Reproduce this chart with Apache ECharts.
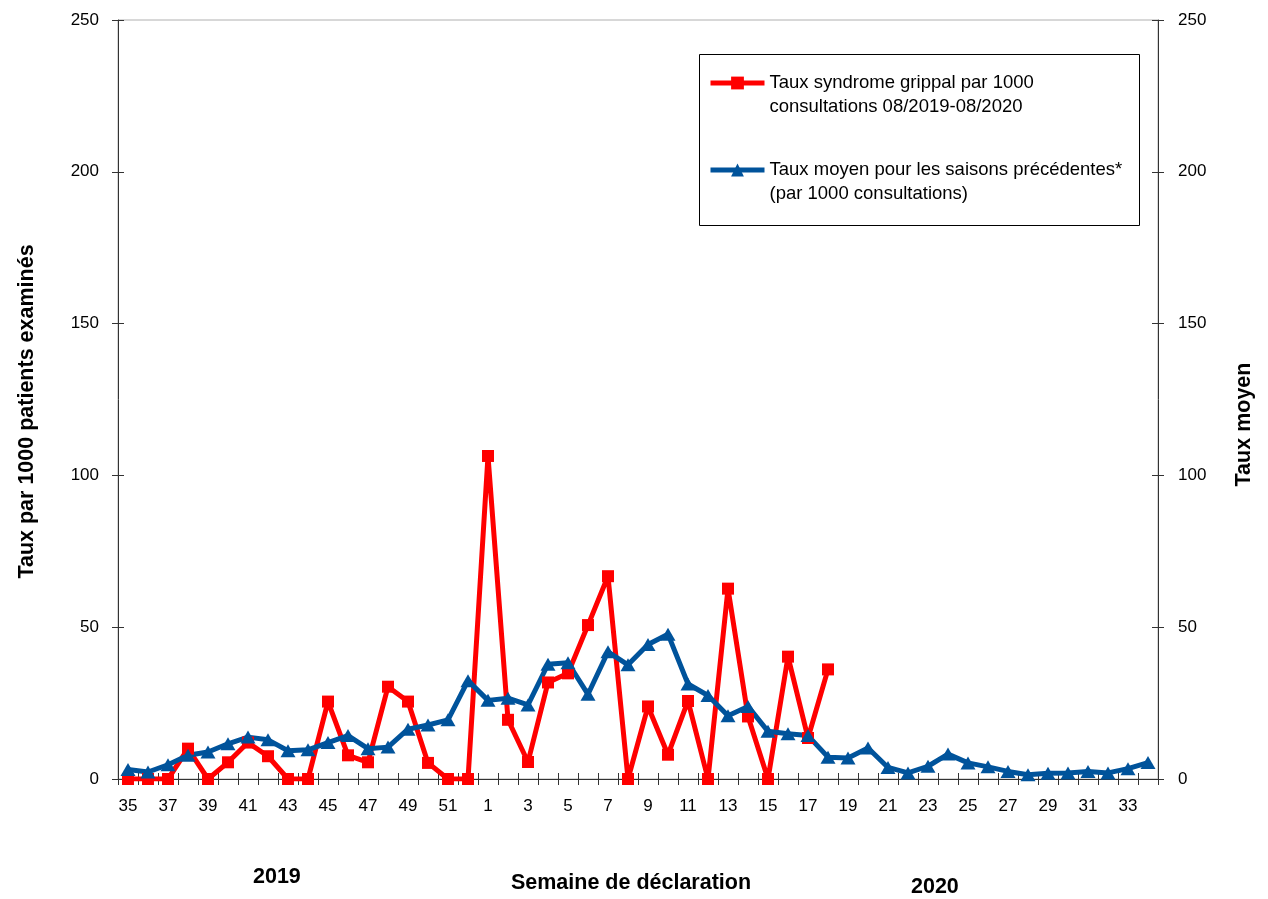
<!DOCTYPE html>
<html>
<head>
<meta charset="utf-8">
<script src="https://cdn.jsdelivr.net/npm/echarts@6/dist/echarts.min.js"></script>
<style>html,body{margin:0;padding:0;background:#fff}#c{width:1268px;height:899px}</style>
</head>
<body>
<div id="c"></div>
<script>
const weeks = ['35','36','37','38','39','40','41','42','43','44','45','46','47','48','49','50','51','52',
  '1','2','3','4','5','6','7','8','9','10','11','12','13','14','15','16','17','18','19','20',
  '21','22','23','24','25','26','27','28','29','30','31','32','33','34'];
const tauxSyndrome = [0,0,0,10,0,5.5,12,7.5,0,0,25.5,7.8,5.5,30.4,25.5,5.3,0,0,
  106.4,19.5,5.6,31.8,34.8,50.7,66.8,0,23.9,8,25.7,0,62.7,20.6,0,40.3,13.5,36.1];
const tauxMoyen = [3.1,2.3,4.7,7.8,8.9,11.6,13.8,12.9,9.3,9.6,12,14.3,10,10.5,16.4,17.8,19.5,32.4,
  25.9,26.6,24.4,37.8,38.3,27.9,41.9,37.6,44.3,47.7,31.3,27.5,20.8,23.9,15.7,14.9,14.3,7.2,6.9,10.2,
  3.8,2,4.2,8.2,5.3,4,2.5,1.4,1.9,2,2.5,2,3.4,5.4];
const yTicks = [0,50,100,150,200,250];
const nameRed = 'Taux syndrome grippal par 1000 consultations 08/2019-08/2020';
const nameBlue = 'Taux moyen pour les saisons précédentes* (par 1000 consultations)';
const legendLines = {};
legendLines[nameRed] = ['Taux syndrome grippal par 1000', 'consultations 08/2019-08/2020'];
legendLines[nameBlue] = ['Taux moyen pour les saisons précédentes*', '(par 1000 consultations)'];

const FONT = "'Liberation Sans', Arial, sans-serif";
const AX = '#333';
const chart = echarts.init(document.getElementById('c'));
const yBase = {type:'value', min:yTicks[0], max:yTicks[yTicks.length-1], interval:50, splitLine:{show:false}};
chart.setOption({
  animation:false,
  textStyle:{fontFamily:FONT},
  grid:{left:118, right:110, top:20, bottom:118, show:true, borderColor:'#b0b0b0', borderWidth:1},
  legend:{
    orient:'vertical', left:708, top:47, padding:0, itemGap:15,
    itemWidth:54, itemHeight:16,
    lineStyle:{width:5},
    textStyle:{fontFamily:FONT, fontSize:18.5, color:'#000', lineHeight:24},
    formatter: n => '\n' + legendLines[n].join('\n'),
    data:[nameRed, nameBlue]
  },
  xAxis:[
    {type:'category', data:weeks, boundaryGap:true,
     axisLine:{lineStyle:{color:AX, width:1}},
     axisTick:{show:true, interval:0, length:6, lineStyle:{color:AX}},
     axisLabel:{interval:1, margin:19, fontSize:17, color:'#000', fontFamily:FONT},
     name:'Semaine de déclaration', nameLocation:'middle', nameGap:93,
     nameTextStyle:{fontSize:21.5, fontWeight:'bold', color:'#000', fontFamily:FONT, padding:[0,14,0,0]}},
    {type:'category', data:weeks, boundaryGap:true, position:'bottom',
     axisLine:{show:false}, axisLabel:{show:false},
     axisTick:{show:true, inside:true, interval:0, length:6, lineStyle:{color:AX}}}
  ],
  yAxis:[
    Object.assign({}, yBase, {position:'left',
      axisLine:{show:true, lineStyle:{color:AX}},
      axisTick:{show:true, length:6, lineStyle:{color:AX}},
      axisLabel:{margin:19, fontSize:17, color:'#000', fontFamily:FONT},
      name:'Taux par 1000 patients examinés', nameLocation:'middle', nameGap:80,
      nameTextStyle:{fontSize:21.5, fontWeight:'bold', color:'#000', fontFamily:FONT, padding:[0,24,0,0]}}),
    Object.assign({}, yBase, {position:'right',
      axisLine:{show:true, lineStyle:{color:AX}},
      axisTick:{show:true, length:6, lineStyle:{color:AX}},
      axisLabel:{margin:20, fontSize:17, color:'#000', fontFamily:FONT},
      name:'Taux moyen', nameLocation:'middle', nameGap:75,
      nameTextStyle:{fontSize:21.5, fontWeight:'bold', color:'#000', fontFamily:FONT, padding:[0,50,0,0]}}),
    Object.assign({}, yBase, {position:'left', axisLine:{show:false}, axisLabel:{show:false},
      axisTick:{show:true, inside:true, length:6, lineStyle:{color:AX}}}),
    Object.assign({}, yBase, {position:'right', axisLine:{show:false}, axisLabel:{show:false},
      axisTick:{show:true, inside:true, length:6, lineStyle:{color:AX}}})
  ],
  graphic:[
    {type:'rect', left:697, top:52, shape:{width:440, height:171}, style:{fill:null, stroke:'#000', lineWidth:1}, silent:true},
    {type:'text', left:253, top:866, style:{text:'2019', fill:'#000', font:"bold 21.5px " + FONT}},
    {type:'text', left:911, top:876, style:{text:'2020', fill:'#000', font:"bold 21.5px " + FONT}}
  ],
  series:[
    {name:nameRed, type:'line', data:tauxSyndrome, xAxisIndex:0, yAxisIndex:0,
     symbol:'rect', symbolSize:12, showAllSymbol:true,
     lineStyle:{color:'#ff0000', width:5}, itemStyle:{color:'#ff0000'}},
    {name:nameBlue, type:'line', data:tauxMoyen, xAxisIndex:0, yAxisIndex:0,
     symbol:'triangle', symbolSize:[15,13], showAllSymbol:true,
     lineStyle:{color:'#00539b', width:5}, itemStyle:{color:'#00539b'}}
  ]
});
</script>
</body>
</html>
